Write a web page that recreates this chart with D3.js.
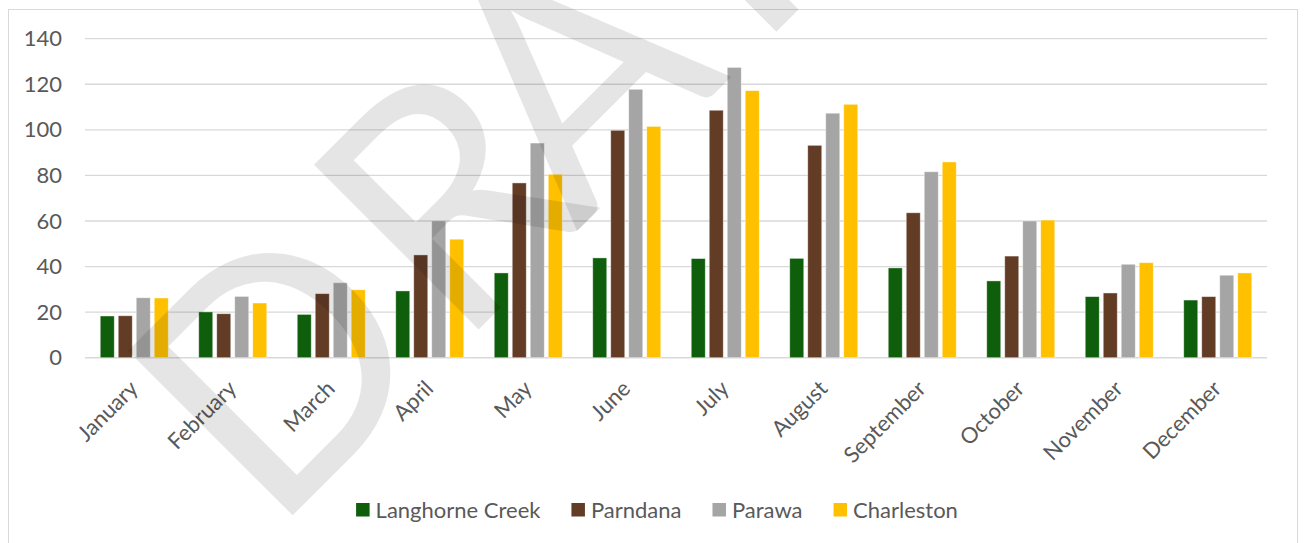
<!DOCTYPE html>
<html>
<head>
<meta charset="utf-8">
<script src="https://cdn.jsdelivr.net/npm/d3@7"></script>
<style>
  html, body { margin: 0; padding: 0; background: #fff; }
  svg { display: block; font-family: Lato, 'Open Sans', sans-serif; }
</style>
</head>
<body>
<div id="chart"></div>
<script>
const months = ['January', 'February', 'March', 'April', 'May', 'June', 'July',
                'August', 'September', 'October', 'November', 'December'];
const seriesNames = ['Langhorne Creek', 'Parndana', 'Parawa', 'Charleston'];
const langhorneCreek = [18.3, 20.1, 19.0, 29.3, 37.2, 43.8, 43.5, 43.6, 39.4, 33.7, 26.8, 25.3];
const parndana       = [18.4, 19.3, 28.1, 45.1, 76.7, 99.8, 108.6, 93.2, 63.6, 44.6, 28.4, 26.8];
const parawa         = [26.3, 26.9, 32.9, 60.1, 94.2, 117.8, 127.4, 107.3, 81.6, 60.0, 41.0, 36.2];
const charleston     = [26.2, 24.0, 29.8, 52.0, 80.5, 101.5, 117.2, 111.2, 85.9, 60.4, 41.7, 37.2];
const yTicks = [0, 20, 40, 60, 80, 100, 120, 140];

const colors = ['#0f5e0b', '#633c26', '#a5a5a5', '#ffc000'];
const seriesValues = [langhorneCreek, parndana, parawa, charleston];

const w = 1305,
      h = 543;

const svg = d3.select('#chart')
              .append('svg')
              .attr('width', w)
              .attr('height', h);

svg.append('rect')
   .attr('width', w)
   .attr('height', h)
   .attr('fill', '#fff');

// chart frame
svg.append('rect')
   .attr('x', 8.5)
   .attr('y', 9.5)
   .attr('width', 1289)
   .attr('height', h)
   .attr('fill', 'none')
   .attr('stroke', '#d9d9d9')
   .attr('stroke-width', 1);

const x0 = d3.scaleBand()
             .domain(months)
             .range([85, 1267])
             .padding(0);

const groupW = 68;
const x1 = d3.scaleBand()
             .domain(seriesNames)
             .range([(x0.bandwidth() - groupW) / 2, (x0.bandwidth() + groupW) / 2])
             .paddingInner(4 / 18);

const y = d3.scaleLinear()
            .domain([0, 140])
            .range([357.7, 38.7]);

// gridlines
svg.append('g')
   .selectAll('line')
   .data(yTicks)
   .enter()
   .append('line')
   .attr('x1', 85)
   .attr('x2', 1267)
   .attr('y1', d => y(d))
   .attr('y2', d => y(d))
   .attr('stroke', '#d9d9d9')
   .attr('stroke-width', d => d === 0 ? 1.6 : 1.3);

// y labels
const axisY = d3.axisLeft(y).tickValues(yTicks).tickSize(0).tickPadding(0);
const gy = svg.append('g')
              .attr('transform', 'translate(62, 0)')
              .call(axisY);
gy.select('.domain').remove();
gy.selectAll('text')
  .attr('fill', '#595959')
  .style('font-family', 'Lato, sans-serif')
  .style('font-size', '22px');

// bars
const groups = svg.append('g')
                  .selectAll('g')
                  .data(months)
                  .enter()
                  .append('g')
                  .attr('transform', d => `translate(${x0(d)}, 0)`);

groups.selectAll('rect')
      .data((m, i) => seriesNames.map((s, j) => ({ s: s, j: j, v: seriesValues[j][i] })))
      .enter()
      .append('rect')
      .attr('x', d => x1(d.s))
      .attr('width', x1.bandwidth())
      .attr('y', d => y(d.v))
      .attr('height', d => y(0) - y(d.v))
      .attr('fill', d => colors[d.j])
      .attr('stroke', 'rgba(255,255,255,0.5)')
      .attr('stroke-width', 0.8);

// x labels
svg.append('g')
   .selectAll('text')
   .data(months)
   .enter()
   .append('text')
   .attr('transform', d => `translate(${x0(d) + x0.bandwidth() / 2 + 5}, 390) rotate(-45)`)
   .attr('text-anchor', 'end')
   .attr('fill', '#595959')
   .style('font-size', '22px')
   .text(d => d);

// legend
const legend = svg.append('g');
const items = legend.selectAll('g')
                    .data(seriesNames)
                    .enter()
                    .append('g');
items.append('rect')
     .attr('width', 13.5)
     .attr('height', 13.5)
     .attr('y', 503)
     .attr('fill', (d, i) => colors[i]);
items.append('text')
     .attr('x', 19.5)
     .attr('y', 510)
     .attr('dy', '0.36em')
     .attr('fill', '#595959')
     .style('font-size', '22px')
     .text(d => d);

let offsets = [], total = 0;
items.each(function(d, i) {
  const tw = this.querySelector('text').getComputedTextLength();
  offsets.push(total);
  total += 19.5 + tw + (i < seriesNames.length - 1 ? 31 : 0);
});
const startX = 657 - total / 2;
items.attr('transform', (d, i) => `translate(${startX + offsets[i]}, 0)`);

// watermark, one glyph per x offset along the diagonal
svg.append('text')
   .attr('transform', 'translate(290, 518) rotate(-45)')
   .attr('x', '-26 237 405 658 820')
   .attr('fill', '#000')
   .attr('fill-opacity', 0.1)
   .style('font-size', '325px')
   .style('font-weight', 400)
   .text('DRAFT');
</script>
</body>
</html>
